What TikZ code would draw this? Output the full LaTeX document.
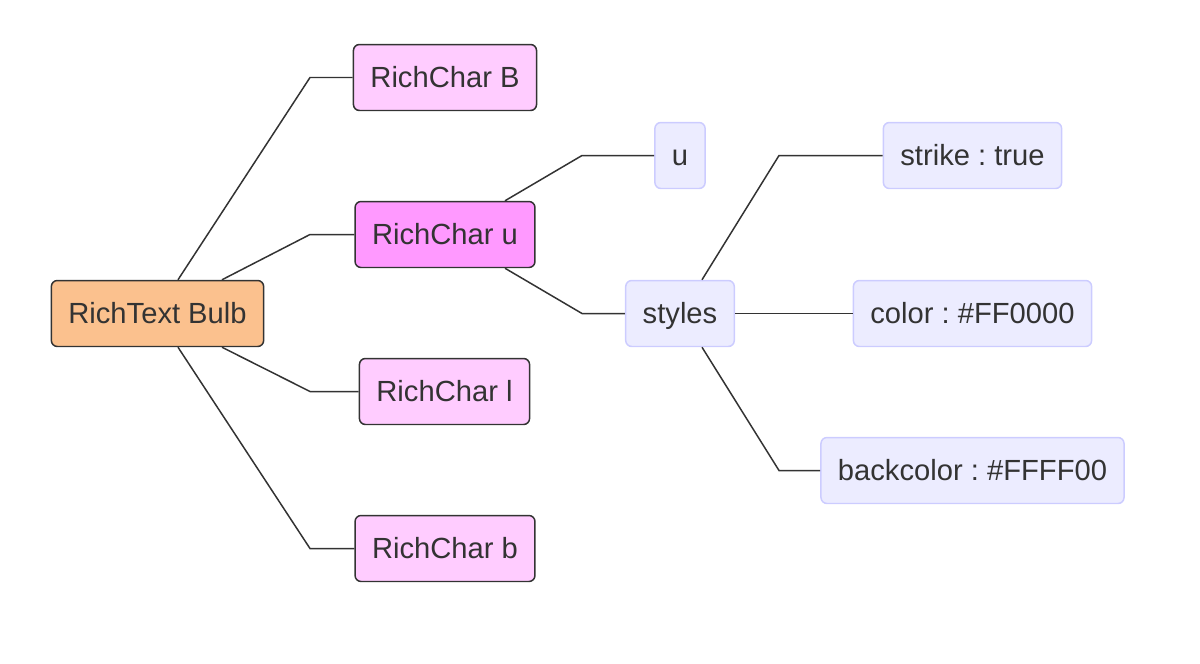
\documentclass[tikz,border=0pt]{standalone}
\usepackage{fontspec}
\setmainfont{Liberation Sans}
\usepackage{xcolor}
\usepackage{tikz}
\usetikzlibrary{positioning,calc}

\definecolor{rootfill}{HTML}{FBC18E}
\definecolor{charfill}{HTML}{FFCCFF}
\definecolor{selfill}{HTML}{FF99FF}
\definecolor{propfill}{HTML}{ECECFF}
\definecolor{propedge}{HTML}{CCCCFF}
\definecolor{edgegray}{HTML}{333333}
\definecolor{textgray}{HTML}{333333}

\begin{document}
\frenchspacing
\begin{tikzpicture}[x=0.02cm,y=-0.02cm,
    box/.style={draw=edgegray, rounded corners=0.12cm, line width=0.85pt,
        minimum height=1.32cm, inner xsep=0.34cm, text=textgray,
        text height=11.8pt, text depth=0.3pt,
        font=\fontsize{16.6}{19}\selectfont},
    rootbox/.style={box, fill=rootfill},
    charbox/.style={box, fill=charfill},
    selbox/.style={box, fill=selfill},
    propbox/.style={box, draw=propedge, fill=propfill},
    link/.style={draw=edgegray, line width=0.85pt}]
    \useasboundingbox (0,0) rectangle (1200,663);

    % elbow columns
    \coordinate (j1) at (310,0);
    \coordinate (j2) at (582,0);
    \coordinate (j3) at (779,0);

    % root and first level
    \node[rootbox] (root) at (157.5,313.5) {RichText Bulb};
    \node[charbox] (cB) at (445,77.5) {RichChar B};
    \node[selbox]  (cu) at (445,234.5) {RichChar u};
    \node[charbox] (cl) at (444.5,391.5) {RichChar l};
    \node[charbox] (cb) at (445,548.5) {RichChar b};

    % children of RichChar u
    \node[propbox] (u) at (680,155.5) {u};
    \node[propbox] (styles) at (680,313.5) {styles};

    % children of styles
    \node[propbox] (strike) at (972.5,155.5) {strike : true};
    \node[propbox] (color) at (972.5,313.5) {color : \#FF0000};
    \node[propbox] (back) at (972.5,470.5) {backcolor : \#FFFF00};

    \draw[link] ($(root.north)+(20.5,0)$) -- (cB.west -| j1) -- (cB.west);
    \draw[link] ($(root.north)+(64.5,0)$) -- (cu.west -| j1) -- (cu.west);
    \draw[link] ($(root.south)+(64.5,0)$) -- (cl.west -| j1) -- (cl.west);
    \draw[link] ($(root.south)+(20.5,0)$) -- (cb.west -| j1) -- (cb.west);

    \draw[link] ($(cu.north)+(60,0)$) -- (u.west -| j2) -- (u.west);
    \draw[link] ($(cu.south)+(60,0)$) -- (styles.west -| j2) -- (styles.west);

    \draw[link] ($(styles.north)+(22,0)$) -- (strike.west -| j3) -- (strike.west);
    \draw[link] (styles.east) -- (color.west);
    \draw[link] ($(styles.south)+(22,0)$) -- (back.west -| j3) -- (back.west);
\end{tikzpicture}
\end{document}
